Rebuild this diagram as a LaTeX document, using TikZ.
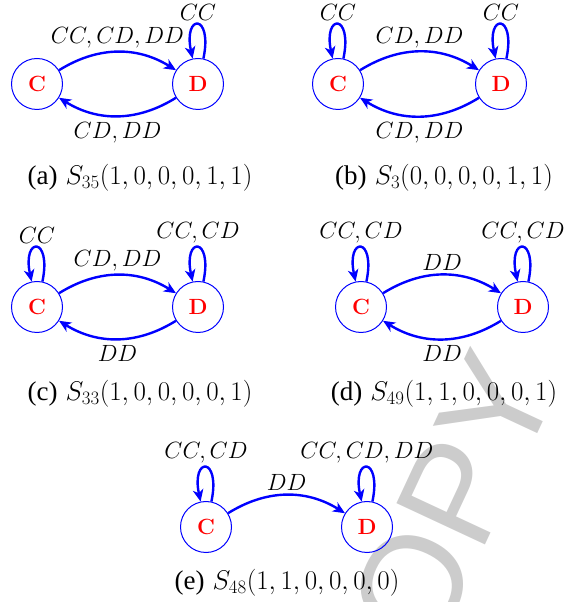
\RequirePackage{fix-cm}
\documentclass[tikz,border=0pt]{standalone}
\usepackage{fontspec}
\newfontfamily\wmfont{Liberation Sans}
\newfontfamily\capfont{Liberation Serif}
\usetikzlibrary{arrows.meta}
\definecolor{wmgray}{gray}{0.8}
\begin{document}
\begin{tikzpicture}[x=1pt, y=1pt,
  state/.style={circle, draw=blue, line width=1pt, minimum size=51pt, inner sep=0pt, text=red, font=\fontsize{22}{26}\selectfont\bfseries},
  trans/.style={blue, line width=2.4pt, -{Stealth[length=12pt,width=10.5pt,inset=3.5pt]}},
  lbl/.style={font=\fontsize{23.5}{28}\selectfont, inner sep=3pt, text=black},
  lblb/.style={lbl, inner sep=5pt},
  captxt/.style={font=\fontsize{27}{32}\selectfont, inner sep=0pt, text=black},
  loopup/.style={out=78, in=102, looseness=11}
]
\useasboundingbox (0,0) rectangle (563,602);
% watermark
\node[rotate=65, text=wmgray, font=\fontsize{142}{142}\wmfont, inner sep=0pt] (wm) at (431,56) {COPY};

% (a)
\node[state] (aC) at (37,518) {C};
\node[state] (aD) at (198,518) {D};
\draw[trans] (aC) to[bend left=32] node[lbl, above] {$CC,CD,DD$} (aD);
\draw[trans] (aD) to[bend left=32] node[lblb, below] {$CD,DD$} (aC);
\draw[trans] (aD) to[loopup] node[lbl, above] {$CC$} (aD);
\node[captxt] (acap) at (140,424) {{\capfont (a)} $S_{35}(1,0,0,0,1,1)$};

% (b)
\node[state] (bC) at (338,518) {C};
\node[state] (bD) at (501,518) {D};
\draw[trans] (bC) to[bend left=32] node[lbl, above] {$CD,DD$} (bD);
\draw[trans] (bD) to[bend left=32] node[lblb, below] {$CD,DD$} (bC);
\draw[trans] (bC) to[loopup] node[lbl, above] {$CC$} (bC);
\draw[trans] (bD) to[loopup] node[lbl, above] {$CC$} (bD);
\node[captxt] (bcap) at (444,424) {{\capfont (b)} $S_{3}(0,0,0,0,1,1)$};

% (c)
\node[state] (cC) at (37,295) {C};
\node[state] (cD) at (198,295) {D};
\draw[trans] (cC) to[bend left=32] node[lbl, above] {$CD,DD$} (cD);
\draw[trans] (cD) to[bend left=32] node[lblb, below] {$DD$} (cC);
\draw[trans] (cC) to[loopup] node[lbl, above] {$CC$} (cC);
\draw[trans] (cD) to[loopup] node[lbl, above] {$CC,CD$} (cD);
\node[captxt] (ccap) at (140,208) {{\capfont (c)} $S_{33}(1,0,0,0,0,1)$};

% (d)
\node[state] (dC) at (361,295) {C};
\node[state] (dD) at (523,295) {D};
\draw[trans] (dC) to[bend left=32] node[lbl, above] {$DD$} (dD);
\draw[trans] (dD) to[bend left=32] node[lblb, below] {$DD$} (dC);
\draw[trans] (dC) to[loopup] node[lbl, above] {$CC,CD$} (dC);
\draw[trans] (dD) to[loopup] node[lbl, above] {$CC,CD$} (dD);
\node[captxt] (dcap) at (444,208) {{\capfont (d)} $S_{49}(1,1,0,0,0,1)$};

% (e)
\node[state] (eC) at (206,75) {C};
\node[state] (eD) at (367,75) {D};
\draw[trans] (eC) to[bend left=32] node[lbl, above] {$DD$} (eD);
\draw[trans] (eC) to[loopup] node[lbl, above] {$CC,CD$} (eC);
\draw[trans] (eD) to[loopup] node[lbl, above] {$CC,CD,DD$} (eD);
\node[captxt] (ecap) at (287,19) {{\capfont (e)} $S_{48}(1,1,0,0,0,0)$};
\end{tikzpicture}
\end{document}
